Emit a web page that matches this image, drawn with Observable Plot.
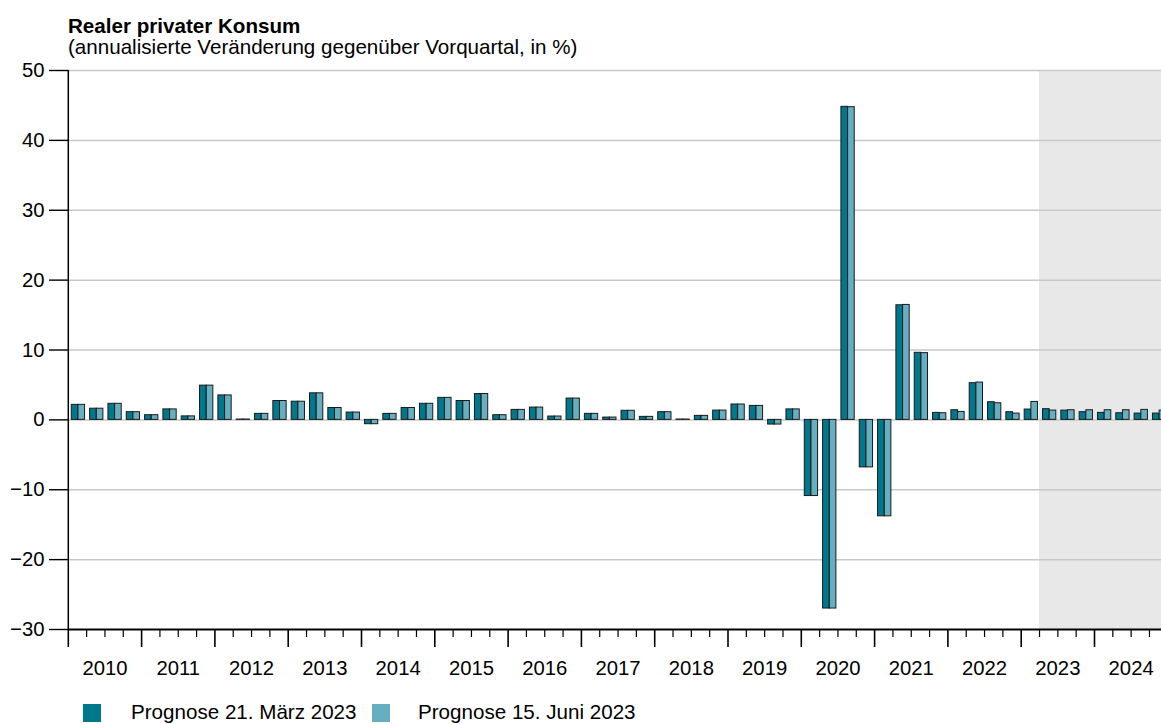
<!DOCTYPE html>
<html>
<head>
<meta charset="utf-8">
<script src="https://cdn.jsdelivr.net/npm/d3@7"></script>
<script src="https://cdn.jsdelivr.net/npm/@observablehq/plot@0.6"></script>
<style>
  html, body { margin: 0; padding: 0; background: #fff; }
  body { font-family: "Liberation Sans", Arial, Helvetica, sans-serif; color: #000; }
  #wrap { position: relative; width: 1161px; height: 724px; overflow: hidden; }
  .txt { position: absolute; font-size: 20.6px; line-height: 20px; white-space: nowrap; }
  #title { left: 68px; top: 16px; font-weight: bold; }
  #subtitle { left: 68px; top: 37px; }
  #chart { position: absolute; left: 0; top: 0; }
  .sw { position: absolute; width: 18px; height: 18px; top: 704px; }
  .lg { top: 702px; }
</style>
</head>
<body>
<div id="wrap">
  <div id="chart"></div>
  <div id="title" class="txt"></div>
  <div id="subtitle" class="txt"></div>
  <div id="legend"></div>
</div>
<script>
// ---- data ----
const titleText = "Realer privater Konsum";
const subtitleText = "(annualisierte Veränderung gegenüber Vorquartal, in %)";
const yearLabels = ["2010","2011","2012","2013","2014","2015","2016","2017","2018","2019","2020","2021","2022","2023","2024"];
const seriesNames = ["Prognose 21. März 2023", "Prognose 15. Juni 2023"];
// quarterly values 2010Q1 ... 2024Q4
const prognoseMaerz = [
  2.15, 1.6, 2.3, 1.1,
  0.67, 1.5, 0.5, 4.9,
  3.5, 0.05, 0.86, 2.7,
  2.6, 3.8, 1.7, 1.05,
  -0.62, 0.86, 1.7, 2.3,
  3.15, 2.7, 3.7, 0.67,
  1.43, 1.76, 0.48, 3.05,
  0.86, 0.33, 1.3, 0.43,
  1.1, 0.05, 0.57, 1.33,
  2.2, 2.0, -0.67, 1.5,
  -10.9, -27.0, 44.8, -6.8,
  -13.8, 16.4, 9.6, 1.0,
  1.38, 5.25, 2.53, 1.1,
  1.48, 1.53, 1.33, 1.1,
  1.0, 0.95, 0.9, 0.9
];
const prognoseJuni = [
  2.15, 1.6, 2.3, 1.1,
  0.67, 1.5, 0.5, 4.9,
  3.5, 0.05, 0.86, 2.7,
  2.6, 3.8, 1.7, 1.05,
  -0.62, 0.86, 1.7, 2.3,
  3.15, 2.7, 3.7, 0.67,
  1.43, 1.76, 0.48, 3.05,
  0.86, 0.33, 1.3, 0.43,
  1.1, 0.05, 0.57, 1.33,
  2.2, 2.0, -0.67, 1.5,
  -10.9, -27.0, 44.75, -6.8,
  -13.8, 16.45, 9.55, 0.95,
  1.14, 5.34, 2.38, 0.9,
  2.57, 1.33, 1.38, 1.38,
  1.38, 1.38, 1.43, 1.33
];
const yTicks = [-30, -20, -10, 0, 10, 20, 30, 40, 50];
const forecastStart = 2023.25; // forecast period (shaded) starts 2023Q2

// ---- styles ----
const seriesColors = ["#00788c", "#66afc1"];
const fontFamily = '"Liberation Sans", Arial, Helvetica, sans-serif';

// ---- build table ----
const firstYear = +yearLabels[0];
const lastYear = +yearLabels[yearLabels.length - 1] + 1;
const rows = [];
[prognoseMaerz, prognoseJuni].forEach((vals, s) => {
  vals.forEach((v, i) => {
    const t = firstYear + i / 4;
    const a = s === 0 ? 0.19 : 0.555;
    const b = s === 0 ? 0.555 : 0.915;
    rows.push({series: seriesNames[s], x1: t + a / 4, x2: t + b / 4, value: v});
  });
});
const quarterTicks = d3.range(0, (lastYear - firstYear) * 4 + 1).map(i => firstYear + i / 4).filter(d => d % 1 !== 0);
const yearTicks = d3.range(firstYear, lastYear + 1);
const yearMids = yearLabels.map(y => +y + 0.5);

const chart = Plot.plot({
  width: 1161,
  height: 700,
  marginTop: 70,
  marginBottom: 71,
  marginLeft: 68,
  marginRight: 0,
  style: {fontFamily, fontSize: "20px", color: "#000", background: "transparent", overflow: "hidden"},
  x: {type: "linear", domain: [firstYear, lastYear], range: [67.8, 1167.3]},
  y: {domain: [yTicks[0], yTicks[yTicks.length - 1]]},
  color: {domain: seriesNames, range: seriesColors},
  marks: [
    Plot.rect([{x1: forecastStart, x2: lastYear}], {x1: "x1", x2: "x2", y1: () => yTicks[0], y2: () => yTicks[yTicks.length - 1], fill: "#e8e8e8"}),
    Plot.gridY(yTicks.filter(d => d > yTicks[0]), {stroke: "#c8c8c8", strokeOpacity: 1, strokeWidth: 1.5}),
    Plot.rect(rows, {x1: "x1", x2: "x2", y1: () => 0, y2: "value", fill: "series", stroke: "#1a1a1a", strokeWidth: 1}),
    Plot.ruleX([firstYear], {stroke: "#000", strokeWidth: 1.5}),
    Plot.ruleY([yTicks[0]], {stroke: "#000", strokeWidth: 1.8}),
    Plot.axisY(yTicks, {tickSize: 19, tickPadding: 5, tickFormat: d3.format("d"), fontSize: 20.3, stroke: "#000", strokeWidth: 1.4, label: null}),
    Plot.axisX(quarterTicks, {tickSize: 8, tickPadding: 0, tickFormat: () => "", stroke: "#000", strokeWidth: 1.2, label: null}),
    Plot.axisX(yearTicks, {tickSize: 18, tickPadding: 0, tickFormat: () => "", stroke: "#000", strokeWidth: 1.6, label: null}),
    Plot.axisX(yearMids, {tickSize: 0, tickPadding: 31, tickFormat: (d, i) => yearLabels[i], fontSize: 20.3, label: null})
  ]
});
document.getElementById("chart").appendChild(chart);
document.getElementById("title").textContent = titleText;
document.getElementById("subtitle").textContent = subtitleText;

// legend
const legend = document.getElementById("legend");
const swX = [83, 371.5];
const txX = [131, 418];
seriesNames.forEach((name, i) => {
  const sw = document.createElement("div");
  sw.className = "sw";
  sw.style.left = swX[i] + "px";
  sw.style.background = seriesColors[i];
  legend.appendChild(sw);
  const tx = document.createElement("div");
  tx.className = "txt lg";
  tx.style.left = txX[i] + "px";
  tx.textContent = name;
  legend.appendChild(tx);
});
</script>
</body>
</html>
